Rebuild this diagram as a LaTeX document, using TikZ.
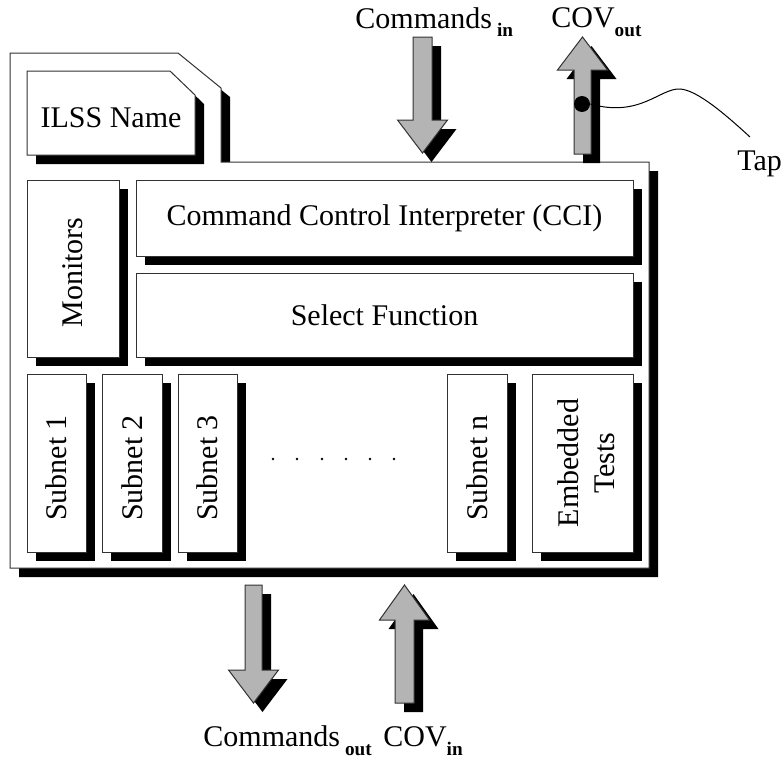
\documentclass[tikz,border=0pt]{standalone}
\usepackage{fontspec}
\setmainfont{Liberation Serif}
\usetikzlibrary{shadows}
\definecolor{arrowgray}{RGB}{180,180,180}
\definecolor{linecolor}{RGB}{50,50,50}
\newcommand{\lowsub}[1]{\raisebox{-4.5pt}{\fontsize{9.6}{10}\selectfont\bfseries #1}}

\begin{document}
\begin{tikzpicture}[
    x=0.5pt, y={(0,-0.5pt)},
    font=\fontsize{15}{18}\selectfont,
    shadowed/.style={drop shadow={shadow xshift=4.5pt, shadow yshift=-4.5pt, opacity=1, fill=black}},
    panel/.style={draw=linecolor, line width=0.5pt, fill=white, shadowed},
    block/.style={panel, rectangle, inner sep=0pt, align=center},
    flow/.style={draw=linecolor, line width=0.5pt, fill=arrowgray, shadowed},
    iotext/.style={inner sep=0pt, anchor=base west}
]
    \useasboundingbox (0,0) rectangle (783,760);

    % Outer ILSS frame
    \draw[panel] (10,53) -- (178,53) -- (221,88) -- (221,162) -- (649,162)
        -- (649,568) -- (10,568) -- cycle;

    % Name tab
    \draw[panel] (27,71) -- (170,71) -- (195,95) -- (195,155) -- (27,155) -- cycle;
    \node (ilss) at (111,118) {ILSS Name};

    % Monitors, CCI and select function
    \node[block, minimum width=46pt, minimum height=88.5pt] (monitors) at (73,268.5)
        {\rotatebox{90}{Monitors\hspace*{4pt}}};
    \node[block, minimum width=248.5pt, minimum height=38pt] (cci) at (384.5,218)
        {Command Control Interpreter (CCI)};
    \node[block, minimum width=248.5pt, minimum height=42pt] (select) at (384.5,315)
        {Select Function};

    % Subnets
    \node[block, minimum width=29.5pt, minimum height=89pt] (sub1) at (56.5,463)
        {\rotatebox{90}{Subnet 1\hspace*{5pt}}};
    \node[block, minimum width=30pt, minimum height=89pt] (sub2) at (132,463)
        {\rotatebox{90}{Subnet 2\hspace*{5pt}}};
    \node[block, minimum width=29.5pt, minimum height=89pt] (sub3) at (207.5,463)
        {\rotatebox{90}{Subnet 3\hspace*{5pt}}};
    \foreach \x in {273,297,322,346,370,394}
        \fill (\x,459) circle (0.7pt);
    \node[block, minimum width=30pt, minimum height=89pt] (subn) at (477,463)
        {\rotatebox{90}{Subnet n\hspace*{5pt}}};
    \node[block, minimum width=50.5pt, minimum height=89pt] (tests) at (582.5,463)
        {\hspace*{7pt}\rotatebox{90}{\begin{tabular}{@{}c@{}}Embedded\\Tests\end{tabular}}};

    % Command and COV flows
    \draw[flow] (413,37) -- (432,37) -- (432,120) -- (447.5,120) -- (422.5,153)
        -- (397.5,120) -- (413,120) -- cycle;
    \draw[flow] (574,154) -- (591,154) -- (591,70) -- (607.5,70) -- (582.5,37)
        -- (557.5,70) -- (574,70) -- cycle;
    \draw[flow] (245,585) -- (262,585) -- (262,670) -- (278.5,670) -- (253.5,703)
        -- (228.5,670) -- (245,670) -- cycle;
    \draw[flow] (395,703) -- (414,703) -- (414,620) -- (429.5,620) -- (404.5,585)
        -- (379.5,620) -- (395,620) -- cycle;

    \node[iotext] (cmdin) at (355,28) {Commands\,\lowsub{in}};
    \node[iotext] (covout) at (551,27) {COV\lowsub{out}};
    \node[iotext] (cmdout) at (203,746) {Commands\,\lowsub{out}};
    \node[iotext] (covin) at (383,746) {COV\lowsub{in}};

    % Tap
    \node[circle, fill=black, inner sep=0pt, minimum size=8pt] (tapdot) at (582,104) {};
    \node[iotext] (tap) at (737,170) {Tap};
    \coordinate (tapend) at (750,137);
    \draw[line width=0.5pt] (tapdot.east) .. controls (640,118) and (660,88) .. (680,89)
        .. controls (697,90) and (725,114) .. (tapend);
\end{tikzpicture}
\end{document}
